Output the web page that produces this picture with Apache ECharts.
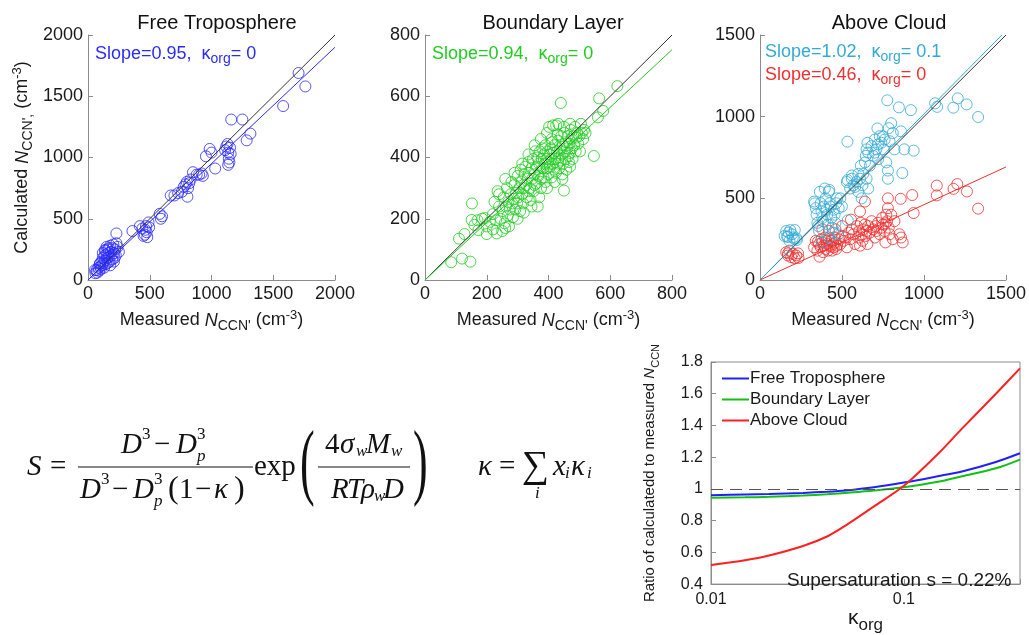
<!DOCTYPE html>
<html>
<head>
<meta charset="utf-8">
<title>CCN closure</title>
<script src="https://cdn.jsdelivr.net/npm/echarts@6/dist/echarts.min.js"></script>
<style>
  html, body { margin: 0; padding: 0; background: #fff; }
  #main { width: 1029px; height: 635px; }
</style>
</head>
<body>
<div id="main"></div>
<script>
// ---- data ----
const ftPts = [
  [60,55],[70,80],[75,60],[85,100],[90,75],[95,130],[100,110],[105,90],[110,150],[115,120],
  [120,180],[125,140],[130,100],[135,200],[140,160],[140,240],[145,130],[150,210],[150,270],[155,180],
  [160,250],[160,140],[165,220],[170,260],[170,190],[175,150],[180,280],[185,230],[190,200],[195,170],
  [200,260],[205,290],[210,220],[215,180],[220,250],[225,200],[230,380],[240,270],[250,230],[120,220],
  [180,120],[210,150],[230,300],[57,82],[97,136],[138,245],
  [360,400],[420,440],[440,420],[450,360],[460,370],[465,410],[470,440],[475,390],[480,350],[490,470],
  [495,430],[580,540],[590,500],[600,520],[670,690],[700,690],[730,710],[760,720],[775,760],[790,780],
  [800,800],[805,680],[810,750],[820,790],[830,820],[850,880],[880,860],[900,860],[920,870],[930,850],
  [955,1010],[985,1070],[1000,1040],[1030,910],[1110,1060],[1120,1090],[1130,1110],[1135,1040],[1140,990],[1145,960],
  [1150,1080],[1155,1030],[1135,940],[1160,1310],[1250,1310],[1285,1140],[1315,1195],[1580,1420],[1705,1690],[1760,1580]
];
const blPts = [
  [85,58],[120,70],[147,60],[110,135],[128,150],[152,250],[151,196],[160,180],[173,163],[185,200],
  [194,202],[200,150],[210,190],[220,215],[225,255],[232,152],[235,290],[240,240],[245,200],[250,160],
  [252,225],[255,270],[258,185],[262,240],[265,300],[268,210],[270,255],[272,175],[275,230],[278,280],
  [280,320],[283,250],[285,205],[288,265],[290,310],[292,230],[295,285],[298,250],[300,340],[302,270],
  [305,300],[308,225],[310,360],[312,320],[315,280],[318,250],[320,300],[322,345],[325,370],[328,310],
  [330,270],[332,330],[335,385],[337,350],[340,300],[342,260],[345,365],[347,330],[350,395],[352,290],
  [355,345],[357,420],[360,315],[362,370],[364,400],[365,240],[367,340],[370,380],[372,420],[374,355],
  [376,300],[378,395],[380,430],[382,365],[384,335],[386,410],[388,380],[390,440],[391,320],[393,395],
  [395,365],[397,420],[399,385],[400,345],[402,500],[403,410],[405,370],[407,430],[409,395],[410,335],
  [412,450],[414,380],[416,415],[418,360],[420,440],[422,395],[424,350],[425,505],[427,420],[429,380],
  [431,455],[433,400],[435,365],[437,430],[439,390],[440,578],[441,470],[443,410],[445,345],[446,440],
  [448,380],[450,292],[451,480],[452,420],[454,395],[456,450],[458,360],[460,430],[462,470],[464,405],
  [466,385],[468,445],[470,415],[472,490],[474,460],[476,430],[478,395],[480,470],[483,440],[486,500],
  [488,420],[490,465],[493,480],[496,445],[500,470],[502,420],[505,510],[508,480],[512,460],[515,490],
  [520,480],[547,405],[560,531],[564,593],[577,552],[623,633],
  [240,280],[260,330],[290,350],[315,380],[335,410],[355,440],[375,460],[395,480],[415,505],[432,510],
  [300,200],[320,220],[345,240],[370,270],[395,300],[420,320],[445,330],[470,370],[260,170],[220,165],
  [200,175],[230,195],[170,195],[375,330],[355,310],[335,290],[410,460],[430,475],[450,500],[470,510]
];
const acKappaPts = [
  [160,300],[165,265],[175,290],[185,305],[195,280],[200,260],[210,250],[225,245],[180,240],[150,270],
  [212,306],[222,255],[171,265],
  [330,480],[340,440],[345,400],[350,350],[355,330],[360,300],[365,540],[370,470],[375,420],[380,380],
  [385,360],[390,450],[395,560],[400,500],[405,430],[410,400],[415,340],[420,540],[425,470],[430,450],
  [435,380],[440,320],[445,290],[450,430],[455,400],[460,350],[465,470],[470,500],[475,280],[480,440],
  [490,500],[500,450],[420,260],[380,230],[333,469],[423,551],
  [530,600],[533,847],[550,560],[560,620],[570,580],[590,600],[600,540],[610,620],[620,500],[625,580],
  [630,650],[640,720],[645,760],[650,800],[655,840],[660,780],[670,700],[680,820],[690,760],[700,860],
  [710,800],[716,928],[720,740],[730,880],[740,840],[750,880],[755,800],[760,860],[770,720],[776,1100],
  [780,620],[780,670],[785,930],[790,850],[800,960],[810,900],[820,800],[847,1057],[860,910],[868,655],
  [880,800],[920,1040],[937,792],[1068,1082],[1080,1060],[1179,1055],[1206,1112],[1260,1075],[1330,998],
  [600,650],[615,700],[580,570],[560,640],[700,780],[720,830],[650,620],[660,560],[534,612],[535,365]
];
const acPts = [
  [160,170],[170,150],[171,163],[180,180],[190,140],[200,160],[212,133],[220,150],[232,163],[235,135],
  [330,200],[340,240],[350,180],[353,234],[360,220],[363,143],[370,200],[375,250],[380,230],[385,170],
  [390,210],[395,260],[400,190],[405,240],[410,220],[415,180],[420,250],[425,210],[434,204],[435,240],
  [440,180],[445,220],[450,200],[455,260],[460,230],[465,190],[470,210],[480,250],[490,220],[500,270],
  [510,240],[520,260],[530,200],[540,290],[550,250],[555,370],[560,310],[570,280],[580,220],[590,330],
  [600,260],[605,300],[610,210],[615,350],[620,280],[625,240],[630,310],[640,340],[645,270],[650,300],
  [655,220],[660,330],[670,290],[680,360],[690,310],[700,260],[705,330],[710,300],[720,350],[730,280],
  [740,320],[745,380],[750,340],[760,300],[765,230],[770,400],[775,360],[780,500],[780,440],[785,320],
  [790,280],[800,400],[810,250],[820,360],[850,280],[860,260],[870,230],[858,497],[937,410],[928,520],
  [1078,578],[1078,518],[1180,558],[1203,587],[1262,542],[1330,437],[640,480],[610,420],[500,330],[460,310],
  [420,300],[380,310],[766,347]
];
const ftOneToOne = [[0,0],[2000,2000]];
const ftFit = [[0,0],[2000,1900]];
const blOneToOne = [[0,0],[800,800]];
const blFit = [[0,0],[800,752]];
const acOneToOne = [[0,0],[1500,1500]];
const acKappaFit = [[0,0],[1475,1500]];
const acFit = [[0,0],[1500,692]];

const kappaOrg = [0.01, 0.015, 0.02, 0.03, 0.04, 0.05, 0.07, 0.1, 0.15, 0.2, 0.3, 0.4];
const ratioFT = [0.960, 0.965, 0.968, 0.975, 0.982, 0.990, 1.010, 1.040, 1.080, 1.110, 1.170, 1.225];
const ratioBL = [0.945, 0.947, 0.950, 0.958, 0.966, 0.975, 0.990, 1.010, 1.045, 1.080, 1.130, 1.185];
const ratioAC = [0.520, 0.550, 0.580, 0.640, 0.700, 0.770, 0.890, 1.020, 1.220, 1.380, 1.600, 1.760];

// ---- styling ----
const SANS = '"Liberation Sans", Arial, Helvetica, sans-serif';
const SERIF = '"Liberation Serif", "Times New Roman", serif';
const AXIS_C = '#8c8c8c';
const TXT = '#1a1a1a';
const BLUE = '#2b2bff', GREEN = '#22cc22', CYAN = '#33aad4', RED = '#f03030';

let chart = echarts.init(document.getElementById('main'));

function richFor(size) {
  return {
    n: { fontSize: size, color: TXT, fontFamily: SANS },
    i: { fontSize: size, color: TXT, fontFamily: SANS, fontStyle: 'italic' },
    sub: { fontSize: size - 4, color: TXT, fontFamily: SANS, padding: [11, 0, 0, 0] },
    sup: { fontSize: size - 5, color: TXT, fontFamily: SANS, padding: [0, 0, 11, 0] }
  };
}

function valAxis(gi, max, interval, name, gap) {
  return {
    gridIndex: gi, type: 'value', min: 0, max: max, interval: interval,
    axisLine: { lineStyle: { color: AXIS_C } },
    axisTick: { inside: true, length: 5, lineStyle: { color: AXIS_C } },
    axisLabel: { color: TXT, fontSize: 18, fontFamily: SANS, margin: 5, formatter: v => String(v) },
    splitLine: { show: false },
    name: name, nameLocation: 'middle', nameGap: gap,
    nameTextStyle: { rich: richFor(18) }
  };
}

const xName = '{n|Measured }{i|N}{sub|CCN\'}{n| (cm}{sup|-3}{n|)}';
const yName = '{n|Calculated }{i|N}{sub|CCN\',}{n| (cm}{sup|-3}{n|)}';

function scat(name, gi, pts, color) {
  return {
    name: name, type: 'scatter', xAxisIndex: gi, yAxisIndex: gi, data: pts,
    symbol: 'circle', symbolSize: 11,
    itemStyle: { color: 'rgba(0,0,0,0)', borderColor: color, borderWidth: 1 }
  };
}
function fitLine(name, gi, pts, color) {
  return {
    name: name, type: 'line', xAxisIndex: gi, yAxisIndex: gi, data: pts,
    symbol: 'none', lineStyle: { color: color, width: 1 }
  };
}
function ratioLine(name, ys, color) {
  return {
    name: name, type: 'line', xAxisIndex: 3, yAxisIndex: 3,
    data: kappaOrg.map((k, i) => [k, ys[i]]),
    symbol: 'none', smooth: 0.3, color: color,
    lineStyle: { color: color, width: 2 }
  };
}

function tx(x, y, s, size, italic, extra) {
  const el = {
    type: 'text', x: x, y: y, z: 100,
    style: {
      text: s, fill: '#111', fontSize: size, fontFamily: SERIF,
      fontStyle: italic ? 'italic' : 'normal',
      verticalAlign: 'middle', textVerticalAlign: 'middle'
    }
  };
  return Object.assign(el, extra || {});
}
function bar(x1, x2, y) {
  return { type: 'line', z: 100, shape: { x1: x1, y1: y, x2: x2, y2: y }, style: { stroke: '#111', lineWidth: 1.2 } };
}
function note(x, y, main, tail, color) {
  return {
    type: 'text', x: x, y: y, z: 100,
    style: {
      text: '{a|' + main + '}{s|org}{a|= ' + tail + '}',
      verticalAlign: 'middle', textVerticalAlign: 'middle',
      rich: {
        a: { fontSize: 18, fill: color, color: color, fontFamily: SANS },
        s: { fontSize: 14, fill: color, color: color, fontFamily: SANS, padding: [11, 0, 0, 0] }
      }
    }
  };
}

const F = 29, f = 17;
const equation = [
  tx(27, 467, 'S', F, true),
  tx(50, 467, '=', F, false),
  bar(78, 253, 467),
  tx(121, 445, 'D', F, true), tx(142, 435, '3', f), tx(154, 445, '−', F),
  tx(176, 445, 'D', F, true), tx(197, 435, '3', f), tx(197, 457, 'p', f, true),
  tx(80, 490, 'D', F, true), tx(101, 480, '3', f), tx(112, 490, '−', F),
  tx(133, 490, 'D', F, true), tx(154, 480, '3', f), tx(154, 502, 'p', f, true),
  tx(168, 490, '(', 32), tx(179, 490, '1', F), tx(195, 490, '−', F),
  tx(214, 490, 'κ', F, true), tx(234, 490, ')', 32),
  tx(254, 467, 'exp', F),
  tx(300, 467, '(', 44, false, { scaleY: 1.9 }),
  bar(318, 410, 467),
  tx(325, 445, '4', F), tx(340, 445, 'σ', F, true), tx(356, 452, 'w', f, true),
  tx(366, 445, 'M', F, true), tx(391, 452, 'w', f, true),
  tx(331, 490, 'R', F, true), tx(347, 490, 'T', F, true), tx(361, 490, 'ρ', F, true),
  tx(374, 497, 'w', f, true), tx(383, 490, 'D', F, true),
  tx(413, 467, ')', 44, false, { scaleY: 1.9 }),
  tx(478, 467, 'κ', F, true), tx(499, 467, '=', F),
  tx(522, 467, '∑', 38), tx(535, 494, 'i', f, true),
  tx(553, 467, 'x', F, true), tx(565, 474, 'i', f, true),
  tx(571, 467, 'κ', F, true), tx(587, 474, 'i', f, true)
];

const titleStyle = { fontSize: 20, fontWeight: 'normal', color: '#111', fontFamily: SANS };

chart.setOption({
  animation: false,
  backgroundColor: '#fff',
  title: [
    { text: 'Free Troposphere', left: 212, top: 8, textAlign: 'center', textStyle: titleStyle },
    { text: 'Boundary Layer', left: 548, top: 8, textAlign: 'center', textStyle: titleStyle },
    { text: 'Above Cloud', left: 884, top: 8, textAlign: 'center', textStyle: titleStyle }
  ],
  grid: [
    { left: 88, top: 35, width: 247, height: 245 },
    { left: 425, top: 35, width: 247, height: 245 },
    { left: 760, top: 35, width: 248, height: 245 },
    { left: 711, top: 362, width: 309, height: 237, show: true, borderColor: AXIS_C, borderWidth: 1, backgroundColor: 'transparent' }
  ],
  legend: {
    data: ['Free Troposphere', 'Boundary Layer', 'Above Cloud'],
    orient: 'vertical', left: 717, top: 365, icon: 'rect',
    itemWidth: 27, itemHeight: 2, itemGap: 4,
    textStyle: { fontSize: 17, lineHeight: 14, color: TXT, fontFamily: SANS, padding: [0, 0, 0, -4] }
  },
  xAxis: [
    valAxis(0, 2000, 500, xName, 28),
    valAxis(1, 800, 200, xName, 28),
    valAxis(2, 1500, 500, xName, 28),
    {
      gridIndex: 3, type: 'log', logBase: 10, min: 0.01, max: 0.4,
      axisLine: { lineStyle: { color: AXIS_C } },
      axisTick: { inside: true, length: 5, lineStyle: { color: AXIS_C } },
      axisLabel: {
        color: TXT, fontSize: 16, fontFamily: SANS, margin: 7,
        formatter: v => {
          const e = Math.log10(v);
          return Math.abs(e - Math.round(e)) < 1e-6 ? String(+v.toPrecision(1)) : '';
        }
      },
      splitLine: { show: false },
      name: '{k|κ}{s|org}', nameLocation: 'middle', nameGap: 12,
      nameTextStyle: {
        rich: {
          k: { fontSize: 21, color: TXT, fontFamily: SANS },
          s: { fontSize: 17, color: TXT, fontFamily: SANS, padding: [14, 0, 0, 0] }
        }
      }
    }
  ],
  yAxis: [
    valAxis(0, 2000, 500, yName, 53),
    valAxis(1, 800, 200, '', 40),
    valAxis(2, 1500, 500, '', 40),
    {
      gridIndex: 3, type: 'value', min: 0.4, max: 1.8, interval: 0.2,
      axisLine: { lineStyle: { color: AXIS_C } },
      axisTick: { inside: true, length: 5, lineStyle: { color: AXIS_C } },
      axisLabel: { color: TXT, fontSize: 16, fontFamily: SANS, margin: 8, formatter: v => String(+v.toFixed(1)) },
      splitLine: { show: false },
      name: '{n|Ratio of calculatedd to measured }{i|N}{sub|CCN}',
      nameLocation: 'middle', nameGap: 50,
      nameTextStyle: { rich: richFor(15) }
    }
  ],
  series: [
    fitLine('ft 1:1', 0, ftOneToOne, '#333'),
    fitLine('ft fit', 0, ftFit, BLUE),
    scat('ft pts', 0, ftPts, BLUE),
    fitLine('bl 1:1', 1, blOneToOne, '#333'),
    fitLine('bl fit', 1, blFit, GREEN),
    scat('bl pts', 1, blPts, GREEN),
    scat('ac red pts', 2, acPts, RED),
    scat('ac cyan pts', 2, acKappaPts, CYAN),
    fitLine('ac 1:1', 2, acOneToOne, '#333'),
    fitLine('ac cyan fit', 2, acKappaFit, CYAN),
    fitLine('ac red fit', 2, acFit, RED),
    Object.assign(ratioLine('Free Troposphere', ratioFT, '#2020ff'), {
      markLine: {
        silent: true, symbol: 'none', label: { show: false },
        lineStyle: { color: '#555', type: [12, 7], width: 1 },
        data: [{ yAxis: 1 }]
      }
    }),
    ratioLine('Boundary Layer', ratioBL, '#14c014'),
    ratioLine('Above Cloud', ratioAC, '#ff2020')
  ],
  graphic: [
    note(95, 54, 'Slope=0.95,  κ', '0', BLUE),
    note(432, 54, 'Slope=0.94,  κ', '0', GREEN),
    note(765, 52, 'Slope=1.02,  κ', '0.1', CYAN),
    note(765, 75, 'Slope=0.46,  κ', '0', RED),
    {
      type: 'text', x: 787, y: 581, z: 100,
      style: { text: 'Supersaturation s = 0.22%', fill: TXT, fontSize: 19, fontFamily: SANS, verticalAlign: 'middle', textVerticalAlign: 'middle' }
    }
  ].concat(equation)
});
</script>
</body>
</html>
